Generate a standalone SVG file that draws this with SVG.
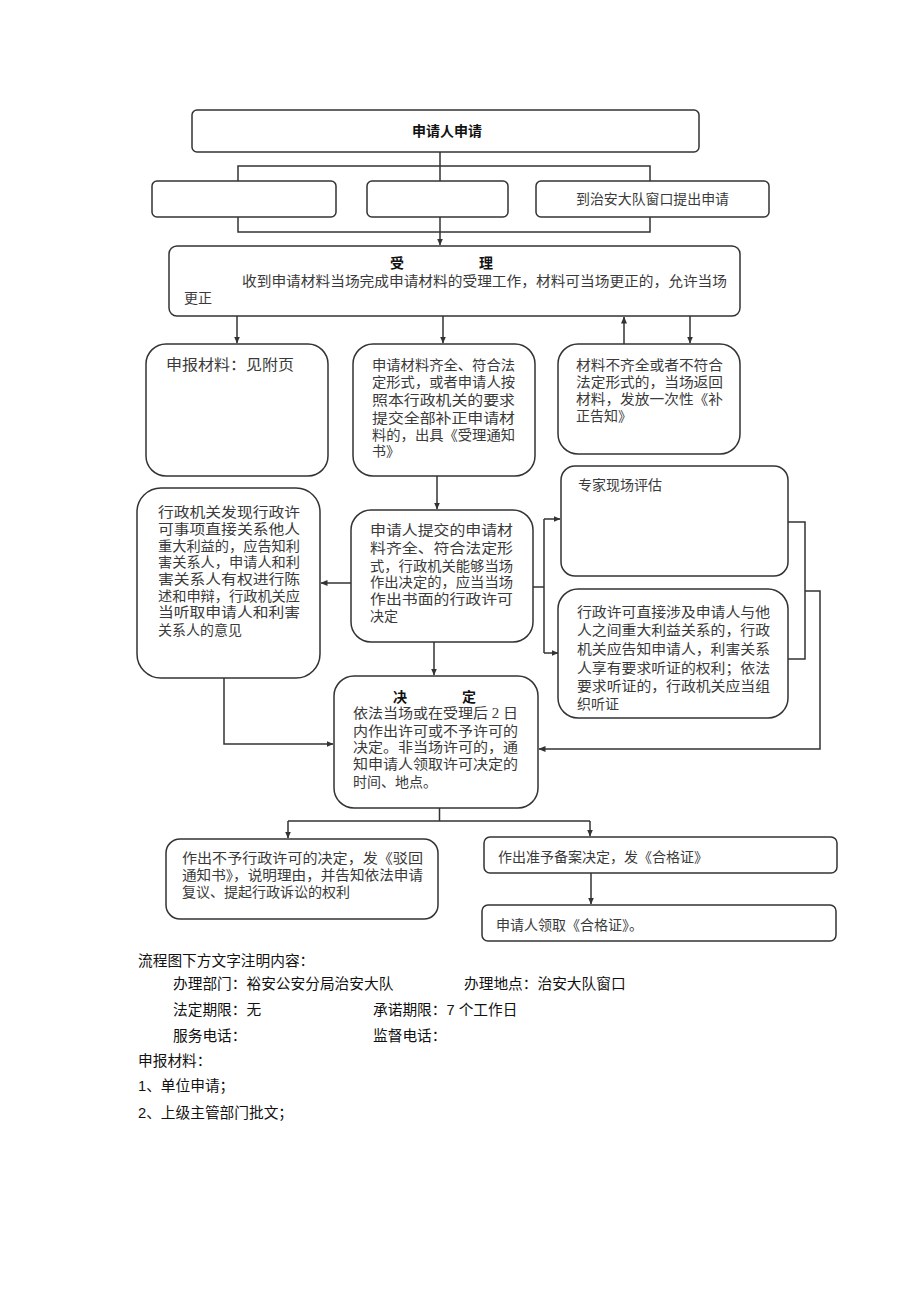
<svg xmlns="http://www.w3.org/2000/svg" width="920" height="1301" viewBox="0 0 920 1301">
<defs>
<style>
.bx{fill:#fff;stroke:#333;stroke-width:1.5}
.ln{fill:none;stroke:#333;stroke-width:1.5}
.t{font-family:"Liberation Serif","Noto Sans CJK SC",serif;font-size:14px;fill:#3a3a3a}
.tb{font-family:"Liberation Sans","Noto Sans CJK SC",sans-serif;font-size:14px;font-weight:bold;fill:#111}
.n{font-family:"Liberation Sans","Noto Sans CJK SC",sans-serif;font-size:14.7px;fill:#111}
</style>
<marker id="a" markerWidth="7" markerHeight="6" refX="6.5" refY="3" orient="auto" markerUnits="userSpaceOnUse">
<path d="M0,0 L7,3 L0,6 z" fill="#333"/>
</marker>
</defs>
<rect width="920" height="1301" fill="#fff"/>

<g id="connectors">
<rect class="ln" x="238" y="166" width="412" height="66"/>
<line class="ln" x1="440" y1="152" x2="440" y2="245" marker-end="url(#a)"/>
<line class="ln" x1="237" y1="316" x2="237" y2="343" marker-end="url(#a)"/>
<line class="ln" x1="443" y1="316" x2="443" y2="343" marker-end="url(#a)"/>
<line class="ln" x1="624" y1="344" x2="624" y2="317" marker-end="url(#a)"/>
<line class="ln" x1="690" y1="316" x2="690" y2="343" marker-end="url(#a)"/>
<line class="ln" x1="437" y1="476" x2="437" y2="509" marker-end="url(#a)"/>
<line class="ln" x1="351" y1="583" x2="321" y2="583" marker-end="url(#a)"/>
<path class="ln" d="M533,587 H544"/>
<path class="ln" d="M544,519 V653"/>
<line class="ln" x1="544" y1="519" x2="560" y2="519" marker-end="url(#a)"/>
<line class="ln" x1="544" y1="653" x2="558" y2="653" marker-end="url(#a)"/>
<line class="ln" x1="434" y1="642" x2="434" y2="675" marker-end="url(#a)"/>
<path class="ln" d="M224,678 V744 H333" marker-end="url(#a)"/>
<path class="ln" d="M788,522 H805 V659 H788"/>
<path class="ln" d="M805,591 H820 V749 H539" marker-end="url(#a)"/>
<path class="ln" d="M439.5,808 V821 M288,821 H590"/>
<line class="ln" x1="288" y1="821" x2="288" y2="838" marker-end="url(#a)"/>
<line class="ln" x1="590" y1="821" x2="590" y2="836" marker-end="url(#a)"/>
<line class="ln" x1="591" y1="873" x2="591" y2="904" marker-end="url(#a)"/>
</g>

<g id="n-apply">
<rect class="bx" x="192" y="110" width="507" height="42" rx="5"/>
<text class="tb" x="447" y="136" text-anchor="middle">申请人申请</text>
</g>
<g id="n-way1"><rect class="bx" x="152" y="181" width="184" height="36" rx="5"/></g>
<g id="n-way2"><rect class="bx" x="367" y="181" width="141" height="36" rx="5"/></g>
<g id="n-way3">
<rect class="bx" x="536" y="181" width="233" height="36" rx="5"/>
<text class="t" x="576" y="204" textLength="153" lengthAdjust="spacingAndGlyphs">到治安大队窗口提出申请</text>
</g>

<g id="n-accept">
<rect class="bx" x="169" y="246" width="571" height="70" rx="8"/>
<text class="tb" x="390" y="268">受</text>
<text class="tb" x="479" y="268">理</text>
<text class="t" x="242" y="286" textLength="485" lengthAdjust="spacingAndGlyphs">收到申请材料当场完成申请材料的受理工作，材料可当场更正的，允许当场</text>
<text class="t" x="184" y="303">更正</text>
</g>

<g id="n-materials">
<rect class="bx" x="146" y="344" width="182" height="132" rx="20"/>
<text class="t" x="166" y="370" style="font-size:15px" textLength="128" lengthAdjust="spacingAndGlyphs">申报材料：见附页</text>
</g>

<g id="n-complete">
<rect class="bx" x="353" y="344" width="182" height="132" rx="20"/>
<text class="t" x="372" y="370" textLength="143" lengthAdjust="spacingAndGlyphs">申请材料齐全、符合法</text>
<text class="t" x="372" y="387" textLength="143" lengthAdjust="spacingAndGlyphs">定形式，或者申请人按</text>
<text class="t" x="372" y="405" textLength="143" lengthAdjust="spacingAndGlyphs">照本行政机关的要求</text>
<text class="t" x="372" y="423" textLength="143" lengthAdjust="spacingAndGlyphs">提交全部补正申请材</text>
<text class="t" x="372" y="440" textLength="143" lengthAdjust="spacingAndGlyphs">料的，出具《受理通知</text>
<text class="t" x="372" y="456">书》</text>
</g>

<g id="n-incomplete">
<rect class="bx" x="558" y="344" width="182" height="110" rx="20"/>
<text class="t" x="576" y="370" textLength="147" lengthAdjust="spacingAndGlyphs">材料不齐全或者不符合</text>
<text class="t" x="576" y="387" textLength="147" lengthAdjust="spacingAndGlyphs">法定形式的，当场返回</text>
<text class="t" x="576" y="404" textLength="147" lengthAdjust="spacingAndGlyphs">材料，发放一次性《补</text>
<text class="t" x="576" y="421">正告知》</text>
</g>

<g id="n-interest">
<rect class="bx" x="137" y="488" width="183" height="190" rx="24"/>
<text class="t" x="158" y="517" textLength="142" lengthAdjust="spacingAndGlyphs">行政机关发现行政许</text>
<text class="t" x="158" y="534" textLength="142" lengthAdjust="spacingAndGlyphs">可事项直接关系他人</text>
<text class="t" x="158" y="551" textLength="142" lengthAdjust="spacingAndGlyphs">重大利益的，应告知利</text>
<text class="t" x="158" y="567" textLength="142" lengthAdjust="spacingAndGlyphs">害关系人，申请人和利</text>
<text class="t" x="158" y="584" textLength="142" lengthAdjust="spacingAndGlyphs">害关系人有权进行陈</text>
<text class="t" x="158" y="601" textLength="142" lengthAdjust="spacingAndGlyphs">述和申辩，行政机关应</text>
<text class="t" x="158" y="617" textLength="142" lengthAdjust="spacingAndGlyphs">当听取申请人和利害</text>
<text class="t" x="158" y="635">关系人的意见</text>
</g>

<g id="n-submit">
<rect class="bx" x="351" y="510" width="182" height="132" rx="20"/>
<text class="t" x="370" y="535" textLength="143" lengthAdjust="spacingAndGlyphs">申请人提交的申请材</text>
<text class="t" x="370" y="553" textLength="143" lengthAdjust="spacingAndGlyphs">料齐全、符合法定形</text>
<text class="t" x="370" y="571" textLength="143" lengthAdjust="spacingAndGlyphs">式，行政机关能够当场</text>
<text class="t" x="370" y="587" textLength="143" lengthAdjust="spacingAndGlyphs">作出决定的，应当当场</text>
<text class="t" x="370" y="604" textLength="143" lengthAdjust="spacingAndGlyphs">作出书面的行政许可</text>
<text class="t" x="370" y="621">决定</text>
</g>

<g id="n-expert">
<rect class="bx" x="561" y="466" width="227" height="110" rx="14"/>
<text class="t" x="578" y="490">专家现场评估</text>
</g>

<g id="n-hearing">
<rect class="bx" x="558" y="589" width="230" height="129" rx="20"/>
<text class="t" x="577" y="617" textLength="193" lengthAdjust="spacingAndGlyphs">行政许可直接涉及申请人与他</text>
<text class="t" x="577" y="635" textLength="193" lengthAdjust="spacingAndGlyphs">人之间重大利益关系的，行政</text>
<text class="t" x="577" y="654" textLength="193" lengthAdjust="spacingAndGlyphs">机关应告知申请人，利害关系</text>
<text class="t" x="577" y="673" textLength="193" lengthAdjust="spacingAndGlyphs">人享有要求听证的权利；依法</text>
<text class="t" x="577" y="691" textLength="193" lengthAdjust="spacingAndGlyphs">要求听证的，行政机关应当组</text>
<text class="t" x="577" y="709">织听证</text>
</g>

<g id="n-decide">
<rect class="bx" x="334" y="676" width="204" height="132" rx="20"/>
<text class="tb" x="393" y="702">决</text>
<text class="tb" x="462" y="702">定</text>
<text class="t" x="353" y="718" textLength="165" lengthAdjust="spacingAndGlyphs">依法当场或在受理后 2 日</text>
<text class="t" x="353" y="736" textLength="165" lengthAdjust="spacingAndGlyphs">内作出许可或不予许可的</text>
<text class="t" x="353" y="752" textLength="165" lengthAdjust="spacingAndGlyphs">决定。非当场许可的，通</text>
<text class="t" x="353" y="769" textLength="165" lengthAdjust="spacingAndGlyphs">知申请人领取许可决定的</text>
<text class="t" x="353" y="787">时间、地点。</text>
</g>

<g id="n-reject">
<rect class="bx" x="166" y="839" width="272" height="80" rx="14"/>
<text class="t" x="182" y="863" textLength="241" lengthAdjust="spacingAndGlyphs">作出不予行政许可的决定，发《驳回</text>
<text class="t" x="182" y="880" textLength="241" lengthAdjust="spacingAndGlyphs">通知书》，说明理由，并告知依法申请</text>
<text class="t" x="182" y="897">复议、提起行政诉讼的权利</text>
</g>

<g id="n-approve">
<rect class="bx" x="484" y="837" width="353" height="36" rx="6"/>
<text class="t" x="498" y="862">作出准予备案决定，发《合格证》</text>
</g>

<g id="n-collect">
<rect class="bx" x="482" y="905" width="354" height="36" rx="6"/>
<text class="t" x="496" y="930">申请人领取《合格证》。</text>
</g>

<g id="notes">
<text class="n" x="138" y="966">流程图下方文字注明内容：</text>
<text class="n" x="173" y="989">办理部门：裕安公安分局治安大队</text>
<text class="n" x="464" y="989">办理地点：治安大队窗口</text>
<text class="n" x="173" y="1015">法定期限：无</text>
<text class="n" x="373" y="1015">承诺期限：7 个工作日</text>
<text class="n" x="173" y="1041">服务电话：</text>
<text class="n" x="373" y="1041">监督电话：</text>
<text class="n" x="138" y="1066">申报材料：</text>
<text class="n" x="138" y="1091">1、单位申请；</text>
<text class="n" x="138" y="1118">2、上级主管部门批文；</text>
</g>
</svg>
